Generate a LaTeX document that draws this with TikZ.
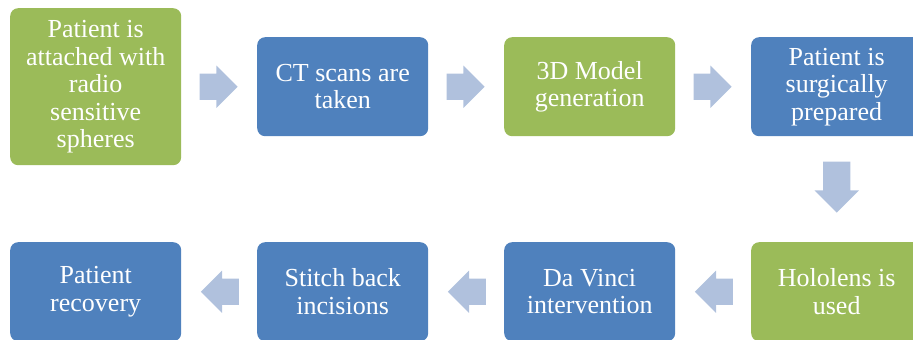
\documentclass[tikz,border=0pt]{standalone}
\usepackage{fontspec}
\setmainfont{Liberation Serif}
\usetikzlibrary{matrix,shapes.arrows,calc}
\definecolor{stepgreen}{HTML}{9BBB59}
\definecolor{stepblue}{HTML}{4F81BD}
\definecolor{steparrow}{HTML}{B0C1DD}

\tikzset{
  stepbox/.style={rounded corners=8pt,text=white,align=flush center,
    font=\fontsize{26}{27.5}\selectfont,inner sep=0pt,
    minimum width=171pt,minimum height=99pt,text width=165pt},
  greenbox/.style={stepbox,fill=stepgreen},
  bluebox/.style={stepbox,fill=stepblue},
  flowarrow/.style={single arrow,fill=steparrow,draw=none,inner xsep=0pt,
    inner ysep=13pt,minimum height=38pt,single arrow head extend=8pt,anchor=tail},
  downarrow/.style={flowarrow,shape border rotate=270,inner xsep=13.5pt,inner ysep=0pt,
    minimum height=51pt,single arrow head extend=8.5pt}
}

\begin{document}
\begin{tikzpicture}
            \useasboundingbox (0,0) rectangle (913pt,-340pt);
            \matrix (m) [matrix of nodes,inner sep=0pt,anchor=north west,
                         column sep=76pt,row sep=77pt,nodes={anchor=center}
                        ] at (10pt,-8pt)
            {
              |[greenbox,minimum height=157pt]|{Patient is\\attached with\\radio\\sensitive\\spheres}
                & |[bluebox]|{CT scans are\\taken}
                & |[greenbox]|{3D Model\\generation}
                & |[bluebox]|{Patient is\\surgically\\prepared}     \\
              |[bluebox]|{Patient\\recovery}
                & |[bluebox]|{Stitch back\\incisions}
                & |[bluebox]|{Da Vinci\\intervention}
                & |[greenbox]|{Hololens is\\used}                   \\
             };

            % Arrows between the steps
            \node[flowarrow] (a12) at ($(m-1-1.east |- m-1-2.west)+(18pt,0)$) {};
            \node[flowarrow] (a23) at ($(m-1-2.east)+(18pt,0)$) {};
            \node[flowarrow] (a34) at ($(m-1-3.east)+(18pt,0)$) {};
            \node[downarrow] (a45) at ($(m-1-4.south)+(0,-25pt)$) {};
            \node[flowarrow,shape border rotate=180] (a54) at ($(m-2-4.west)+(-18pt,0)$) {};
            \node[flowarrow,shape border rotate=180] (a43) at ($(m-2-3.west)+(-18pt,0)$) {};
            \node[flowarrow,shape border rotate=180] (a32) at ($(m-2-2.west)+(-18pt,0)$) {};
    \end{tikzpicture}
\end{document}
